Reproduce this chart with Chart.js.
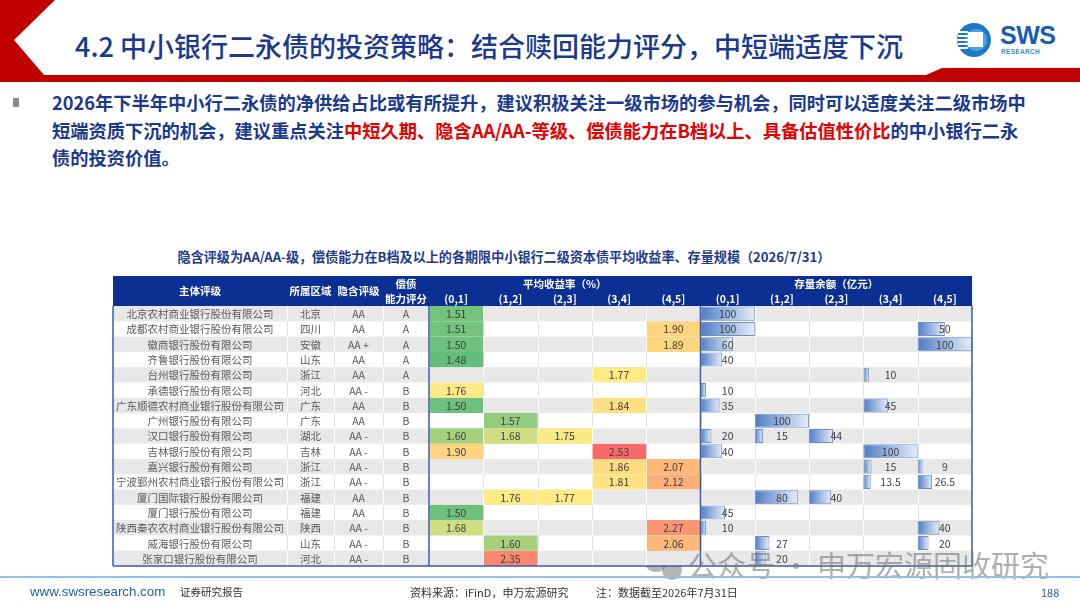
<!DOCTYPE html>
<html><head><meta charset="utf-8">
<script src="https://cdn.jsdelivr.net/npm/chart.js@4.4.1/dist/chart.umd.min.js"></script>
<style>
html,body{margin:0;padding:0;background:#fff;}
#page{position:relative;width:1080px;height:608px;overflow:hidden;font-family:"Noto Sans CJK SC","Noto Sans",sans-serif;}
#deco{position:absolute;left:0;top:0;}
#cv{position:absolute;left:0;top:0;}
.abs{position:absolute;white-space:nowrap;}
#title{left:75px;top:27px;font-size:27px;color:#1b3a8c;line-height:38px;font-weight:500;}
#bullet{left:13px;top:98px;width:6px;height:9px;background:#8c8c8c;}
#para{left:52px;top:89px;font-size:18.25px;font-weight:bold;color:#1b3a8c;line-height:27.5px;}
#para .r{color:#e60000;}
#ctitle{left:0;width:1008px;text-align:center;top:247px;font-size:13.1px;font-weight:bold;color:#1b3a8c;line-height:20px;}
#wm{left:688px;top:544px;font-size:29px;color:rgba(120,120,120,0.6);line-height:40px;}
#fline{left:0;top:576px;width:1080px;height:2px;background:#8fc1e8;}
#furl{left:30px;top:583px;font-family:"Liberation Sans Narrow","Liberation Sans",sans-serif;font-size:13.3px;color:#1f5fae;line-height:18px;}
#frep{left:180px;top:584px;font-size:10.5px;color:#333;line-height:16px;}
#fsrc{left:410px;top:584px;font-size:11px;color:#333;line-height:16px;}
#fnote{left:596px;top:584px;font-size:11px;color:#333;line-height:16px;}
#fpg{left:1041px;top:584px;font-size:11px;color:#1f5fae;line-height:16px;}
#logo{left:1000px;top:22px;font-family:"Liberation Sans","DejaVu Sans",sans-serif;font-weight:bold;font-size:25px;color:#1a5cb0;line-height:26px;letter-spacing:-0.5px;}
#logo2{left:1001px;top:48px;font-family:"Liberation Sans",sans-serif;font-weight:bold;font-size:6.5px;color:#3a8fd6;line-height:8px;letter-spacing:0.3px;}
</style></head>
<body><div id="page">
<svg id="deco" width="1080" height="608">
  <rect x="0" y="0" width="1080" height="82" fill="#c00000"/>
  <polygon points="55,0 1080,0 1080,68 942,68 926,75 44,75 14,40" fill="#ffffff"/>
  <circle cx="974" cy="40" r="17" fill="#1e78c8"/>
  <circle cx="976" cy="40" r="11" fill="#4aa3e6"/>
  <rect x="968" y="32" width="15" height="15" fill="#ffffff"/>
  <rect x="959" y="31" width="9" height="2" fill="#ffffff"/>
  <rect x="958" y="35" width="10" height="2" fill="#ffffff"/>
  <rect x="957" y="39" width="11" height="2" fill="#ffffff"/>
  <rect x="958" y="43" width="10" height="2" fill="#ffffff"/>
  <rect x="959" y="47" width="9" height="2" fill="#ffffff"/>
  <circle cx="656" cy="560" r="12" fill="rgba(120,120,120,0.55)"/>
  <circle cx="672" cy="570" r="10" fill="rgba(120,120,120,0.55)"/>
</svg>
<div class="abs" id="title">4.2 中小银行二永债的投资策略：结合赎回能力评分，中短端适度下沉</div>
<div class="abs" id="logo">SWS</div>
<div class="abs" id="logo2">RESEARCH</div>
<div class="abs" id="bullet"></div>
<div class="abs" id="para">2026年下半年中小行二永债的净供给占比或有所提升，建议积极关注一级市场的参与机会，同时可以适度关注二级市场中<br>短端资质下沉的机会，建议重点关注<span class="r">中短久期、隐含AA/AA-等级、偿债能力在B档以上、具备估值性价比</span>的中小银行二永<br>债的投资价值。</div>
<div class="abs" id="ctitle">隐含评级为AA/AA-级，偿债能力在B档及以上的各期限中小银行二级资本债平均收益率、存量规模（2026/7/31）</div>
<canvas id="cv" width="1080" height="608"></canvas>
<div class="abs" id="wm">公众号 · 申万宏源固收研究</div>
<div class="abs" id="fline"></div>
<div class="abs" id="furl">www.swsresearch.com</div>
<div class="abs" id="frep">证券研究报告</div>
<div class="abs" id="fsrc">资料来源：iFinD，申万宏源研究</div>
<div class="abs" id="fnote">注：数据截至2026年7月31日</div>
<div class="abs" id="fpg">188</div>
</div>
<script>
// ---------- DATA ----------
const companies = ['北京农村商业银行股份有限公司','成都农村商业银行股份有限公司','徽商银行股份有限公司','齐鲁银行股份有限公司','台州银行股份有限公司','承德银行股份有限公司','广东顺德农村商业银行股份有限公司','广州银行股份有限公司','汉口银行股份有限公司','吉林银行股份有限公司','嘉兴银行股份有限公司','宁波鄞州农村商业银行股份有限公司','厦门国际银行股份有限公司','厦门银行股份有限公司','陕西秦农农村商业银行股份有限公司','威海银行股份有限公司','张家口银行股份有限公司'];
const regions = ['北京','四川','安徽','山东','浙江','河北','广东','广东','湖北','吉林','浙江','浙江','福建','福建','陕西','山东','河北'];
const impliedRatings = ['AA','AA','AA+','AA','AA','AA-','AA','AA','AA-','AA-','AA-','AA-','AA','AA','AA-','AA-','AA-'];
const repayScores = ['A','A','A','A','A','B','B','B','B','B','B','B','B','B','B','B','B'];
const tenors = ['(0,1]','(1,2]','(2,3]','(3,4]','(4,5]'];
const yield01 = [1.51,1.51,1.50,1.48,null,1.76,1.50,null,1.60,1.90,null,null,null,1.50,1.68,null,null];
const yield12 = [null,null,null,null,null,null,null,1.57,1.68,null,null,null,1.76,null,null,1.60,2.35];
const yield23 = [null,null,null,null,null,null,null,null,1.75,null,null,null,1.77,null,null,null,null];
const yield34 = [null,null,null,null,1.77,null,1.84,null,null,2.53,1.86,1.81,null,null,null,null,null];
const yield45 = [null,1.90,1.89,null,null,null,null,null,null,null,2.07,2.12,null,null,2.27,2.06,null];
const vol01 = [100,100,60,40,null,10,35,null,20,40,null,null,null,45,10,null,null];
const vol12 = [null,null,null,null,null,null,null,100,15,null,null,null,80,null,null,27,20];
const vol23 = [null,null,null,null,null,null,null,null,44,null,null,null,40,null,null,null,null];
const vol34 = [null,null,null,null,10,null,45,null,null,100,15,13.5,null,null,null,null,null];
const vol45 = [null,50,100,null,null,null,null,null,null,null,9,26.5,null,null,40,20,null];

const yieldCols = [yield01,yield12,yield23,yield34,yield45];
const volCols = [vol01,vol12,vol23,vol34,vol45];

// ---------- STYLE HELPERS ----------
const allY = yieldCols.flat().filter(v=>v!=null).sort((a,b)=>a-b);
const yMin = allY[0], yMax = allY[allY.length-1];
const yMid = allY.length%2 ? allY[(allY.length-1)/2] : (allY[allY.length/2-1]+allY[allY.length/2])/2;
const volMax = Math.max(...volCols.flat().filter(v=>v!=null));
function mix(a,b,t){return a.map((c,i)=>Math.round(c+(b[i]-c)*t));}
function heatColor(v){
  if(v==null) return 'rgba(0,0,0,0)';
  const G=[99,190,123],Y=[255,235,132],R=[248,105,107];
  let c = v<=yMid ? mix(G,Y,(v-yMin)/(yMid-yMin)) : mix(Y,R,(v-yMid)/(yMax-yMid));
  return `rgb(${c[0]},${c[1]},${c[2]})`;
}
const FONT = '"Noto Sans CJK SC","Noto Sans",sans-serif';
const HEADER_BLUE = '#0b2f93';
const BORDER_BLUE = '#3d5aa8';
const STRIPE = '#e8e8e8';
const textColBounds = [113,287,334,383]; // left text columns (last edge = chart area left)
const headerH = 30;

const datasets = [];
yieldCols.forEach((col,j)=>{
  datasets.push({
    label:'平均收益率'+tenors[j],
    data: col.map(v=> v==null?null:[j,j+1]),
    backgroundColor: col.map(v=>heatColor(v)),
    borderColor:'#ffffff',
    borderWidth:{left:1,right:0,top:0,bottom:0},
    borderSkipped:false,
    barPercentage:1, categoryPercentage:1, grouped:false
  });
});
volCols.forEach((col,j)=>{
  datasets.push({
    label:'存量余额'+tenors[j],
    data: col.map(v=> v==null?null:[5+j,5+j+v/volMax]),
    backgroundColor:(c)=>{
      const ch=c.chart, xs=ch.scales.x;
      const v = col[c.dataIndex];
      if(!xs || v==null || c.type!=='data') return '#6a94cc';
      const x0=xs.getPixelForValue(5+j), x1=xs.getPixelForValue(5+j+v/volMax);
      if(!isFinite(x0)||!isFinite(x1)) return '#6a94cc';
      const g=ch.ctx.createLinearGradient(x0,0,Math.max(x1,x0+1),0);
      g.addColorStop(0,'#4f7cc2'); g.addColorStop(0.55,'#a3bce2'); g.addColorStop(1,'#e6ecf7');
      return g;
    },
    borderColor:'#6a8fca',
    borderWidth:1,
    borderSkipped:false,
    barPercentage:0.92, categoryPercentage:1, grouped:false
  });
});

const tablePlugin = {
  id:'tablePlugin',
  beforeDatasetsDraw(chart){
    const {ctx, chartArea:a, scales:{x,y}} = chart;
    const n = companies.length, rh = (a.bottom-a.top)/n;
    const L = textColBounds[0], R = a.right;
    ctx.save();
    for(let i=0;i<n;i++){
      const cy=y.getPixelForValue(i);
      if(i%2===0){ctx.fillStyle=STRIPE; ctx.fillRect(L,cy-rh/2,R-L,rh);}
    }
    const bounds = textColBounds.slice(1);
    for(let k=0;k<=10;k++) bounds.push(x.getPixelForValue(k));
    for(let i=0;i<n;i++){
      const cy=y.getPixelForValue(i);
      ctx.strokeStyle = i%2===0 ? '#ffffff' : '#e2e2e2';
      ctx.lineWidth=1;
      bounds.forEach(bx=>{ctx.beginPath();ctx.moveTo(Math.round(bx)+0.5,cy-rh/2);ctx.lineTo(Math.round(bx)+0.5,cy+rh/2);ctx.stroke();});
    }
    const ht=a.top-headerH;
    ctx.fillStyle=HEADER_BLUE; ctx.fillRect(L,ht,R-L,headerH);
    ctx.fillStyle='#ffffff'; ctx.textAlign='center'; ctx.textBaseline='middle';
    ctx.font='bold 10.5px '+FONT;
    const cb=textColBounds.concat([a.left]);
    const hc=(k)=>(cb[k]+cb[k+1])/2;
    ctx.fillText('主体评级',hc(0),ht+headerH/2);
    ctx.fillText('所属区域',hc(1),ht+headerH/2);
    ctx.fillText('隐含评级',hc(2),ht+headerH/2);
    ctx.fillText('偿债',hc(3),ht+8);
    ctx.fillText('能力评分',hc(3),ht+23);
    ctx.fillText('平均收益率（%）',(x.getPixelForValue(0)+x.getPixelForValue(5))/2,ht+8);
    ctx.fillText('存量余额（亿元）',(x.getPixelForValue(5)+x.getPixelForValue(10))/2,ht+8);
    for(let j=0;j<5;j++){
      ctx.fillText(tenors[j],x.getPixelForValue(j+0.5),ht+23.5);
      ctx.fillText(tenors[j],x.getPixelForValue(5+j+0.5),ht+23.5);
    }
    ctx.restore();
  },
  afterDatasetsDraw(chart){
    const {ctx, chartArea:a, scales:{x,y}} = chart;
    const n = companies.length;
    const cb=textColBounds.concat([a.left]);
    const hc=(k)=>(cb[k]+cb[k+1])/2;
    ctx.save();
    ctx.textAlign='center'; ctx.textBaseline='middle';
    ctx.font='10.5px '+FONT;
    for(let i=0;i<n;i++){
      const cy=y.getPixelForValue(i)+0.5;
      ctx.fillStyle='#595959';
      ctx.fillText(companies[i],hc(0),cy);
      ctx.fillText(regions[i],hc(1),cy);
      ctx.fillText(impliedRatings[i].replace('+',' +').replace(/-$/,' -'),hc(2),cy);
      ctx.fillText(repayScores[i],hc(3),cy);
      ctx.fillStyle='#404040';
      yieldCols.forEach((col,j)=>{ if(col[i]!=null) ctx.fillText(col[i].toFixed(2),x.getPixelForValue(j+0.5),cy); });
      volCols.forEach((col,j)=>{ if(col[i]!=null) ctx.fillText(String(col[i]),x.getPixelForValue(5+j+0.5),cy); });
    }
    ctx.strokeStyle=BORDER_BLUE; ctx.lineWidth=1.5;
    [cb[0], a.left, x.getPixelForValue(5), a.right].forEach(bx=>{
      ctx.beginPath(); ctx.moveTo(bx,a.top); ctx.lineTo(bx,a.bottom); ctx.stroke();
    });
    ctx.beginPath(); ctx.moveTo(cb[0],a.bottom); ctx.lineTo(a.right,a.bottom); ctx.stroke();
    ctx.restore();
  }
};

new Chart(document.getElementById('cv'),{
  type:'bar',
  data:{labels:companies, datasets},
  options:{
    indexAxis:'y',
    responsive:false,
    animation:false,
    layout:{padding:{left:429,right:108,top:306,bottom:42}},
    scales:{
      x:{type:'linear',min:0,max:10,display:false},
      y:{type:'category',display:false,offset:true}
    },
    plugins:{legend:{display:false},tooltip:{enabled:false}}
  },
  plugins:[tablePlugin]
});
</script>
</body></html>
